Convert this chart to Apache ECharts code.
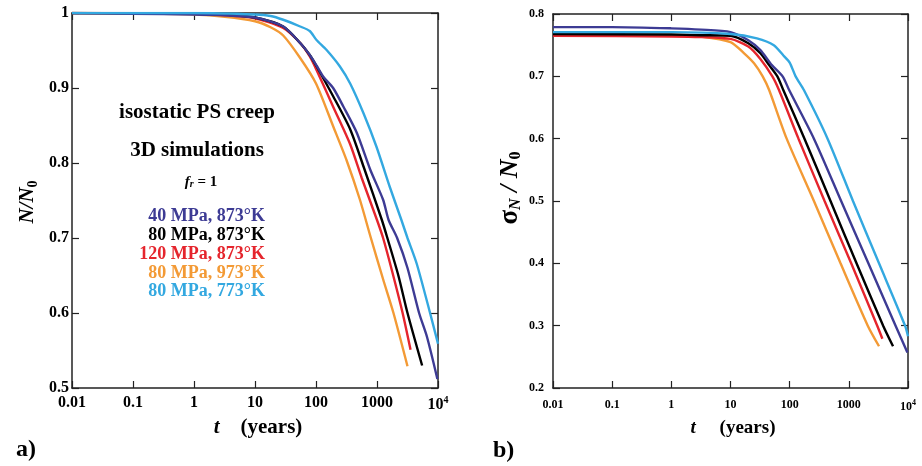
<!DOCTYPE html>
<html><head><meta charset="utf-8">
<script src="https://cdn.jsdelivr.net/npm/echarts@6/dist/echarts.min.js"></script>
<style>html,body{margin:0;padding:0;background:#fff}#c{width:922px;height:466px}</style>
</head><body><div id="c"></div>
<script>
// tick labels
const xTickLabels = ['0.01','0.1','1','10','100','1000','10^4'];
const seriesNames = ['40 MPa, 873°K','80 MPa, 873°K','120 MPa, 873°K','80 MPa, 973°K','80 MPa, 773°K'];
const colors = ['#3d3b94','#000000','#e5252d','#f39a35','#33a8e0'];

// panel a) N/N0 vs t (years)
const leftDarkBlue = [[0.01,1],[0.1,0.999],[1,0.998],[3.2,0.997],[10,0.994],[29,0.982],[55,0.96],[79,0.944],[102,0.93],[132,0.915],[191,0.9],[282,0.875],[468,0.84],[776,0.791],[1259,0.751],[1549,0.724],[2138,0.7],[3162,0.66],[4898,0.6],[6607,0.568],[9772,0.512]];
const leftBlack = [[0.01,1],[1,0.999],[3.2,0.998],[10,0.994],[29,0.982],[55,0.96],[79,0.944],[102,0.929],[191,0.889],[363,0.845],[603,0.795],[1202,0.724],[1479,0.7],[2239,0.65],[3162,0.6],[5495,0.53]];
const leftRed = [[0.01,1],[1,0.999],[3.2,0.997],[10,0.993],[29,0.98],[55,0.96],[79,0.942],[102,0.924],[191,0.875],[363,0.825],[562,0.78],[1000,0.724],[1259,0.7],[1778,0.655],[2630,0.6],[3548,0.551]];
const leftOrange = [[0.01,1],[0.1,0.9995],[1,0.998],[3.2,0.995],[10,0.989],[18,0.981],[29,0.97],[55,0.94],[100,0.906],[191,0.849],[316,0.804],[525,0.751],[794,0.7],[1259,0.645],[1862,0.6],[3162,0.529]];
const leftLightBlue = [[0.01,1],[1,1],[10,0.998],[18,0.996],[29,0.991],[55,0.982],[79,0.976],[102,0.964],[148,0.951],[245,0.929],[363,0.906],[603,0.866],[977,0.822],[1622,0.768],[2512,0.724],[3162,0.7],[4467,0.666],[7413,0.6],[10000,0.559]];

// panel b) sigma_N/N0 vs t (years)
const rightDarkBlue = [[0.01,0.779],[0.1,0.779],[1,0.777],[3.2,0.775],[10,0.771],[20,0.758],[32,0.742],[50,0.718],[76,0.7],[98,0.678],[257,0.6],[741,0.5],[2138,0.4],[6166,0.3],[9772,0.257]];
const rightBlack = [[0.01,0.768],[1,0.767],[3.2,0.766],[10,0.765],[20,0.753],[32,0.737],[45,0.718],[62,0.7],[78,0.678],[178,0.6],[490,0.5],[1349,0.4],[3802,0.3],[5585,0.267]];
const rightRed = [[0.01,0.765],[1,0.764],[3.2,0.763],[10,0.76],[20,0.748],[32,0.728],[51,0.7],[66,0.678],[141,0.6],[389,0.5],[1096,0.4],[3020,0.3],[3690,0.279]];
const rightOrange = [[0.01,0.768],[1,0.767],[3.2,0.764],[10,0.755],[17,0.737],[25,0.721],[35,0.7],[45,0.678],[89,0.6],[257,0.5],[724,0.4],[2089,0.3],[3236,0.267]];
const rightLightBlue = [[0.01,0.771],[1,0.771],[10,0.768],[28,0.761],[54,0.75],[79,0.733],[100,0.722],[126,0.7],[174,0.678],[437,0.6],[1175,0.5],[3236,0.4],[8913,0.3],[10000,0.283]];

const FONT = 'Liberation Serif';
const chart = echarts.init(document.getElementById('c'), null, {renderer:'canvas'});

function xLabelFmt(v){
  const i = Math.round(Math.log10(v)) + 2;
  const s = xTickLabels[i] || '';
  if (s.indexOf('^') >= 0) { const p = s.split('^'); return '{b|' + p[0] + '}{s|' + p[1] + '}'; }
  return '{b|' + s + '}';
}
function xAxis(grid, pos, show, fs, margin){
  return {type:'log', logBase:10, gridIndex:grid, position:pos, min:0.01, max:10000,
    axisLine:{show:true, onZero:false, lineStyle:{color:'#222', width:1.5}},
    axisTick:{show:true, inside:true, length:7, lineStyle:{color:'#222', width:1.2}},
    minorTick:{show:false}, splitLine:{show:false},
    axisLabel:{show:show, margin:margin, formatter:xLabelFmt,
      rich:{b:{fontFamily:FONT, fontWeight:'bold', fontSize:fs, color:'#000'},
            s:{fontFamily:FONT, fontWeight:'bold', fontSize:Math.round(fs*0.65), color:'#000', verticalAlign:'top', padding:[0,0,fs*0.6,0]}}}};
}
function yAxis(grid, pos, show, mn, mx, fs, margin){
  return {type:'value', gridIndex:grid, position:pos, min:mn, max:mx, interval:0.1,
    axisLine:{show:true, onZero:false, lineStyle:{color:'#222', width:1.5}},
    axisTick:{show:true, inside:true, length:7, lineStyle:{color:'#222', width:1.2}},
    splitLine:{show:false},
    axisLabel:{show:show, margin:margin, fontFamily:FONT, fontWeight:'bold', fontSize:fs, color:'#000',
      formatter:function(v){ return String(Math.round(v*10)/10); }}};
}
function mk(data, xi, yi, ci){
  return {type:'line', data:data, xAxisIndex:xi, yAxisIndex:yi, showSymbol:false, symbol:'none',
    smooth:0.25, lineStyle:{color:colors[ci], width:2.4}, itemStyle:{color:colors[ci]}, z:2, silent:true};
}

const option = {
  animation:false,
  backgroundColor:'#fff',
  grid:[{left:72, top:13, width:366, height:375},{left:553, top:14, width:355, height:374}],
  xAxis:[xAxis(0,'bottom',true,16,7), xAxis(0,'top',false,16,7), xAxis(1,'bottom',true,12,11), xAxis(1,'top',false,12,11)],
  yAxis:[yAxis(0,'left',true,0.5,1,16,3), yAxis(0,'right',false,0.5,1,16,3), yAxis(1,'left',true,0.2,0.8,12,9), yAxis(1,'right',false,0.2,0.8,12,9)],
  series:[
    mk(leftOrange,0,0,3), mk(leftRed,0,0,2), mk(leftBlack,0,0,1), mk(leftDarkBlue,0,0,0), mk(leftLightBlue,0,0,4),
    mk(rightOrange,2,2,3), mk(rightRed,2,2,2), mk(rightBlack,2,2,1), mk(rightDarkBlue,2,2,0), mk(rightLightBlue,2,2,4)
  ],
  graphic:[
    {type:'text', x:197, y:113, style:{text:'isostatic PS creep', font:'bold 21px "'+FONT+'"', fill:'#000', textAlign:'center', textVerticalAlign:'middle'}},
    {type:'text', x:197, y:151, style:{text:'3D simulations', font:'bold 21px "'+FONT+'"', fill:'#000', textAlign:'center', textVerticalAlign:'middle'}},
    {type:'text', x:201, y:182, style:{text:'{f|f}{r|r}{e| = 1}', textAlign:'center', textVerticalAlign:'middle',
      rich:{f:{fontFamily:FONT, fontStyle:'italic', fontWeight:'bold', fontSize:15, fill:'#000'},
            r:{fontFamily:FONT, fontStyle:'italic', fontWeight:'bold', fontSize:10, fill:'#000', padding:[5,0,0,0]},
            e:{fontFamily:FONT, fontWeight:'bold', fontSize:15, fill:'#000'}}}},
    {type:'text', x:265, y:216, style:{text:seriesNames[0], font:'bold 18px "'+FONT+'"', fill:colors[0], textAlign:'right', textVerticalAlign:'middle'}},
    {type:'text', x:265, y:235, style:{text:seriesNames[1], font:'bold 18px "'+FONT+'"', fill:colors[1], textAlign:'right', textVerticalAlign:'middle'}},
    {type:'text', x:265, y:254, style:{text:seriesNames[2], font:'bold 18px "'+FONT+'"', fill:colors[2], textAlign:'right', textVerticalAlign:'middle'}},
    {type:'text', x:265, y:273, style:{text:seriesNames[3], font:'bold 18px "'+FONT+'"', fill:colors[3], textAlign:'right', textVerticalAlign:'middle'}},
    {type:'text', x:265, y:291, style:{text:seriesNames[4], font:'bold 18px "'+FONT+'"', fill:colors[4], textAlign:'right', textVerticalAlign:'middle'}},
    // axis titles
    {type:'text', x:258, y:428, style:{text:'{i|t}{n|    (years)}', textAlign:'center', textVerticalAlign:'middle',
      rich:{i:{fontFamily:FONT, fontStyle:'italic', fontWeight:'bold', fontSize:21, fill:'#000'},
            n:{fontFamily:FONT, fontWeight:'bold', fontSize:21, fill:'#000'}}}},
    {type:'text', x:733, y:428, style:{text:'{i|t}{n|     (years)}', textAlign:'center', textVerticalAlign:'middle',
      rich:{i:{fontFamily:FONT, fontStyle:'italic', fontWeight:'bold', fontSize:19, fill:'#000'},
            n:{fontFamily:FONT, fontWeight:'bold', fontSize:19, fill:'#000'}}}},
    {type:'text', x:28, y:202, rotation:Math.PI/2, style:{text:'{i|N/N}{s|0}', textAlign:'center', textVerticalAlign:'middle',
      rich:{i:{fontFamily:FONT, fontStyle:'italic', fontWeight:'bold', fontSize:21, fill:'#000', lineHeight:26},
            s:{fontFamily:FONT, fontWeight:'bold', fontSize:14, fill:'#000', lineHeight:26, padding:[10,0,0,0]}}}},
    {type:'text', x:510, y:188, rotation:Math.PI/2, style:{text:'{g|σ}{t|N}{i| / N}{s|0}', textAlign:'center', textVerticalAlign:'middle',
      rich:{g:{fontFamily:FONT, fontWeight:'bold', fontSize:27, fill:'#000', lineHeight:30},
            t:{fontFamily:FONT, fontStyle:'italic', fontWeight:'bold', fontSize:16, fill:'#000', lineHeight:30, padding:[12,0,0,0]},
            i:{fontFamily:FONT, fontStyle:'italic', fontWeight:'bold', fontSize:26, fill:'#000', lineHeight:30},
            s:{fontFamily:FONT, fontWeight:'bold', fontSize:16, fill:'#000', lineHeight:30, padding:[12,0,0,0]}}}},
    {type:'text', x:16, y:450, style:{text:'a)', font:'bold 24px "'+FONT+'"', fill:'#000', textVerticalAlign:'middle'}},
    {type:'text', x:493, y:451, style:{text:'b)', font:'bold 24px "'+FONT+'"', fill:'#000', textVerticalAlign:'middle'}}
  ]
};
chart.setOption(option);
</script></body></html>
